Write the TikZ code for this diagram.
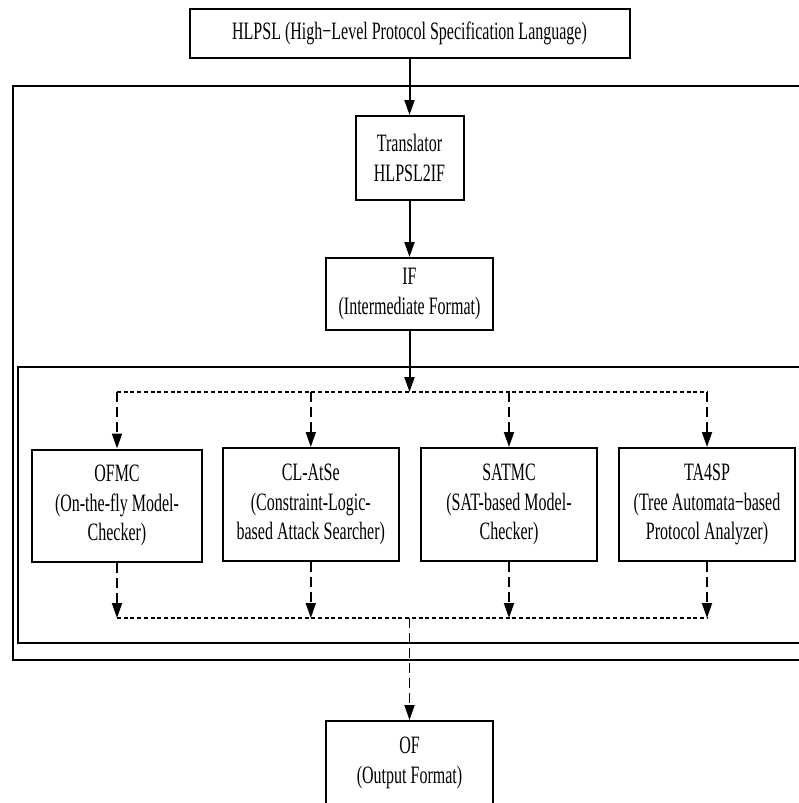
\documentclass[tikz,border=0pt]{standalone}
\usepackage{fontspec}
\setmainfont[FakeStretch=0.64]{Liberation Serif}
\usetikzlibrary{arrows.meta}
\begin{document}
\begin{tikzpicture}[x=1pt,y=-1pt,
  box/.style={draw, line width=2pt, align=center, inner sep=0pt,
    font=\fontsize{25}{29.5}\selectfont},
  frame/.style={draw, line width=2pt},
  arr/.style={line width=2pt, -{Triangle[length=15pt,width=10pt]}},
  hdash/.style={line width=1.8pt, dash pattern=on 4pt off 2.7pt},
  vdash/.style={line width=1.8pt, dash pattern=on 10pt off 5pt, -{Triangle[length=15pt,width=10pt]}}]
\useasboundingbox (0,0) rectangle (799,803);
% frames
\draw[frame] (12.7,86) rectangle (815,660);
\draw[frame] (17.8,367) rectangle (815,643);
% nodes
\node[box, minimum width=440pt, minimum height=48.5pt] (hlpsl) at (409.5,33.5) {HLPSL (High−Level Protocol Specification Language)};
\node[box, minimum width=108pt, minimum height=84pt] (trans) at (409.5,158) {Translator\\HLPSL2IF};
\node[box, minimum width=166.5pt, minimum height=72pt] (if) at (409.5,294) {IF\\(Intermediate Format)};
\node[box, minimum width=170pt, minimum height=112pt] (ofmc) at (117,505.5) {OFMC\\(On-the-fly Model-\\Checker)};
\node[box, minimum width=175.5pt, minimum height=113pt] (clatse) at (310.8,504.5) {CL-AtSe\\(Constraint-Logic-\\based Attack Searcher)};
\node[box, minimum width=176pt, minimum height=113pt] (satmc) at (509,504.5) {SATMC\\(SAT-based Model-\\Checker)};
\node[box, minimum width=176pt, minimum height=113pt] (ta4sp) at (707,504.5) {TA4SP\\(Tree Automata−based\\Protocol Analyzer)};
\node[box, minimum width=167pt, minimum height=84pt] (of) at (409.5,763) {OF\\(Output Format)};
% junctions
\coordinate (tj) at (409.5,392);
\coordinate (bj) at (409.5,618);
% solid arrows
\draw[arr] (hlpsl.south) -- (trans.north);
\draw[arr] (trans.south) -- (if.north);
\draw[arr] (if.south) -- (tj);
% top distribution
\draw[hdash] (ofmc.north |- tj) -- (ta4sp.north |- tj);
\foreach \n in {ofmc,clatse,satmc,ta4sp}
  \draw[vdash] (\n.north |- tj) -- (\n.north);
% bottom collection
\foreach \n in {ofmc,clatse,satmc,ta4sp}
  \draw[vdash] (\n.south) -- (\n.south |- bj);
\draw[hdash] (ofmc.south |- bj) -- (ta4sp.south |- bj);
\draw[vdash] (bj) -- (of.north);
\end{tikzpicture}
\end{document}
